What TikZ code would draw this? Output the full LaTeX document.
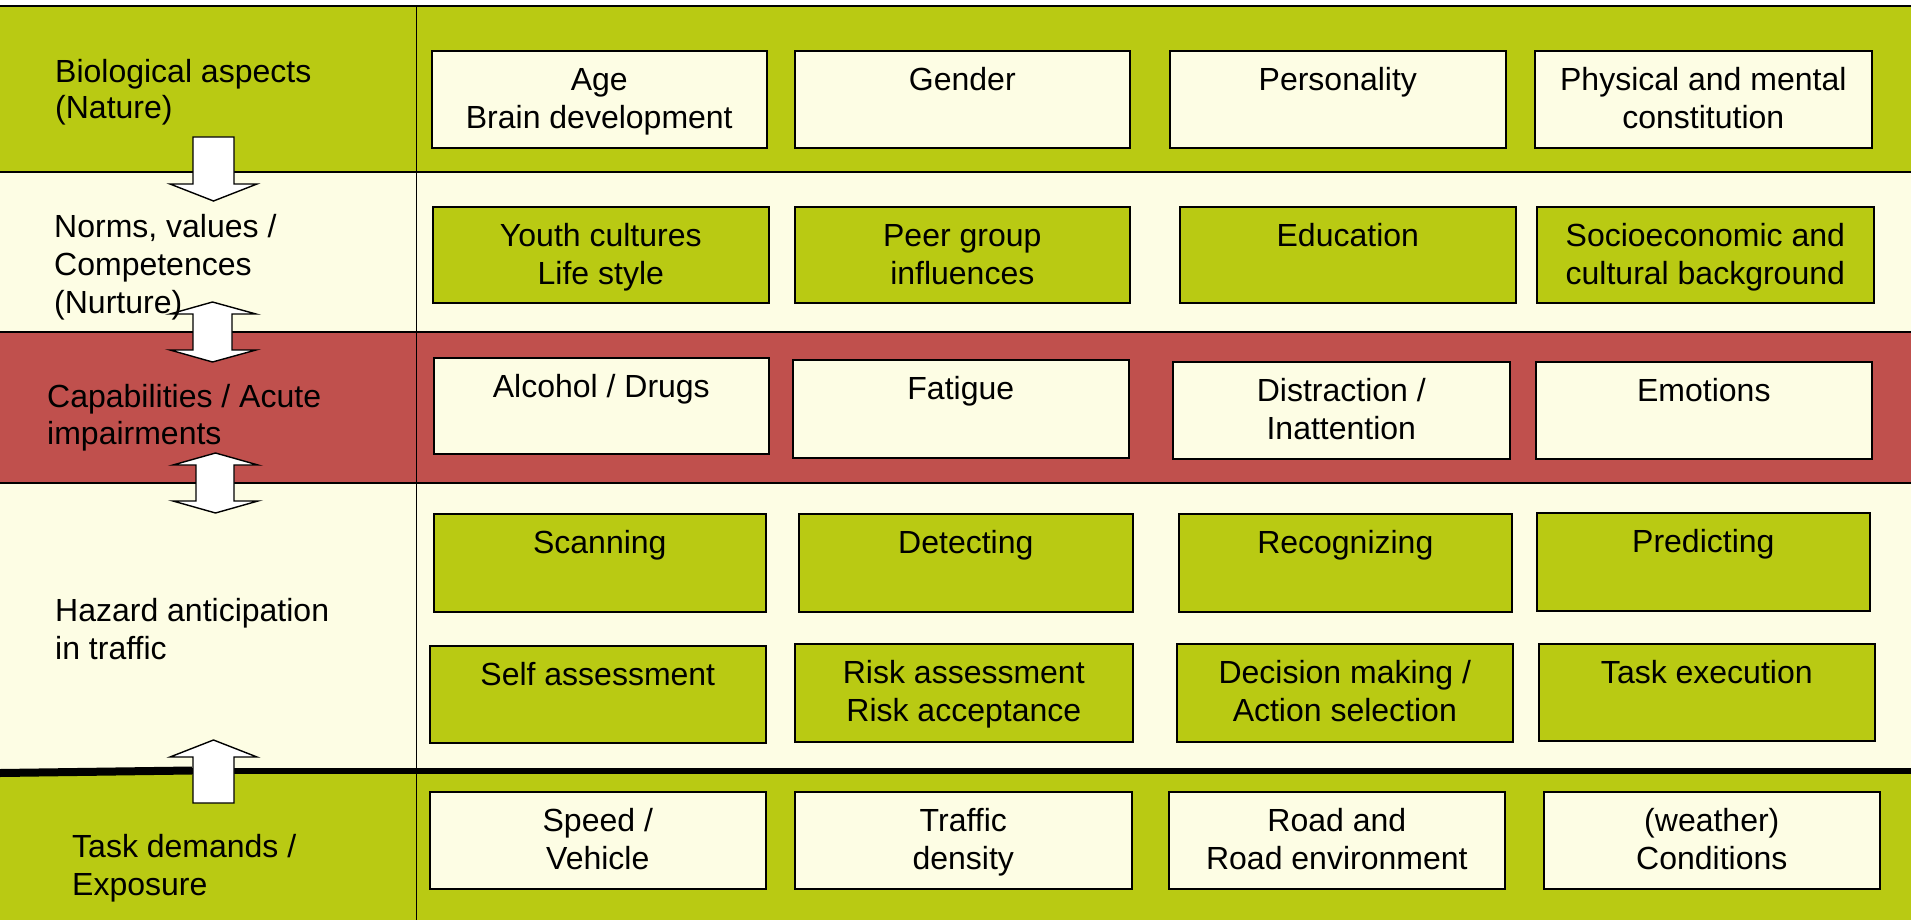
\documentclass[tikz,border=0pt]{standalone}
\usepackage{fontspec}
\setmainfont{Liberation Sans}
\definecolor{bandgreen}{RGB}{185,202,19}
\definecolor{bandcream}{RGB}{253,253,228}
\definecolor{bandred}{RGB}{192,80,77}
\newcommand\bxt[3]{\parbox[c][#2pt][t]{#1pt}{\centering\rule{0pt}{40pt}#3\par}}
\newcommand\lbt[1]{\parbox[t]{340pt}{\raggedright\rule{0pt}{40pt}#1\par}}
\begin{document}
\begin{tikzpicture}[x=1pt,y=-1pt,
  font=\fontsize{32}{38}\selectfont,
  cbox/.style={draw=black,line width=1.6pt,fill=bandcream,inner sep=0pt,anchor=north west},
  gbox/.style={draw=black,line width=1.6pt,fill=bandgreen,inner sep=0pt,anchor=north west},
  lbl/.style={inner sep=0pt,anchor=north west},
  blockarrow/.style={draw=black,line width=1.4pt,fill=white,line join=miter},
  bandline/.style={draw=black,line width=1.8pt},
]
\useasboundingbox (0,0) rectangle (1911,920);
\fill[white] (0,0) rectangle (1911,920);
% bands
\fill[bandgreen] (0,6) rectangle (1911,172);
\fill[bandcream] (0,172) rectangle (1911,332);
\fill[bandred] (0,332) rectangle (1911,483);
\fill[bandcream] (0,483) rectangle (1911,771);
\fill[bandgreen] (0,771) rectangle (1911,920);
% lines
\draw[bandline] (0,6) -- (1911,6);
\draw[bandline] (0,172) -- (1911,172);
\draw[bandline] (0,332) -- (1911,332);
\draw[bandline] (0,483) -- (1911,483);
\draw[black,line width=1pt] (416,6) -- (416,920);
\draw[black,line width=8pt] (0,773) -- (192,770.5);
\draw[black,line width=6pt] (190,771) -- (1911,771);
% row 1
\node[cbox] (r1a) at (431,50)  {\bxt{335}{97}{Age\\Brain development}};
\node[cbox] (r1b) at (794,50)  {\bxt{335}{97}{Gender}};
\node[cbox] (r1c) at (1169,50) {\bxt{336}{97}{Personality}};
\node[cbox] (r1d) at (1534,50) {\bxt{337}{97}{Physical and mental\\constitution}};
% row 2
\node[gbox] (r2a) at (432,206)  {\bxt{336}{96}{Youth cultures\\Life style}};
\node[gbox] (r2b) at (794,206)  {\bxt{335}{96}{Peer group\\influences}};
\node[gbox] (r2c) at (1179,206) {\bxt{336}{96}{Education}};
\node[gbox] (r2d) at (1536,206) {\bxt{337}{96}{Socioeconomic and\\cultural background}};
% row 3
\node[cbox] (r3a) at (433,357)  {\bxt{335}{96}{Alcohol / Drugs}};
\node[cbox] (r3b) at (792,359)  {\bxt{336}{98}{Fatigue}};
\node[cbox] (r3c) at (1172,361) {\bxt{337}{97}{Distraction /\\Inattention}};
\node[cbox] (r3d) at (1535,361) {\bxt{336}{97}{Emotions}};
% row 4
\node[gbox] (r4a) at (433,513)  {\bxt{332}{98}{Scanning}};
\node[gbox] (r4b) at (798,513)  {\bxt{334}{98}{Detecting}};
\node[gbox] (r4c) at (1178,513) {\bxt{333}{98}{Recognizing}};
\node[gbox] (r4d) at (1536,512) {\bxt{333}{98}{Predicting}};
% row 5
\node[gbox] (r5a) at (429,645)  {\bxt{336}{97}{Self assessment}};
\node[gbox] (r5b) at (794,643)  {\bxt{338}{98}{Risk assessment\\Risk acceptance}};
\node[gbox] (r5c) at (1176,643) {\bxt{336}{98}{Decision making /\\Action selection}};
\node[gbox] (r5d) at (1538,643) {\bxt{336}{97}{Task execution}};
% row 6
\node[cbox] (r6a) at (429,791)  {\bxt{336}{97}{Speed /\\Vehicle}};
\node[cbox] (r6b) at (794,791)  {\bxt{337}{97}{Traffic\\density}};
\node[cbox] (r6c) at (1168,791) {\bxt{336}{97}{Road and\\Road environment}};
\node[cbox] (r6d) at (1543,791) {\bxt{336}{97}{(weather)\\Conditions}};
% block arrows
\draw[blockarrow] (193,137) -- (234,137) -- (234,184) -- (257,184) -- (213.5,201) -- (170,184) -- (193,184) -- cycle;
\draw[blockarrow] (212.5,302) -- (256,314) -- (232,314) -- (232,350) -- (256,350) -- (212.5,362) -- (170,350) -- (193,350) -- (193,314) -- (170,314) -- cycle;
\draw[blockarrow] (215.5,453) -- (258,465) -- (234,465) -- (234,501) -- (258,501) -- (215.5,513) -- (173,501) -- (196,501) -- (196,465) -- (173,465) -- cycle;
\draw[blockarrow] (213.5,740) -- (257,757) -- (234,757) -- (234,803) -- (193,803) -- (193,757) -- (170,757) -- cycle;
% left labels
\node[lbl] (l1) at (55,42)  {\lbt{Biological aspects\\[-2pt](Nature)}};
\node[lbl] (l2) at (54,197) {\lbt{Norms, values /\\Competences\\(Nurture)}};
\node[lbl] (l3) at (47,367) {\lbt{Capabilities / Acute\\[-1pt]impairments}};
\node[lbl] (l4) at (55,581) {\lbt{Hazard anticipation\\in traffic}};
\node[lbl] (l5) at (72,817) {\lbt{Task demands /\\Exposure}};
\end{tikzpicture}
\end{document}
